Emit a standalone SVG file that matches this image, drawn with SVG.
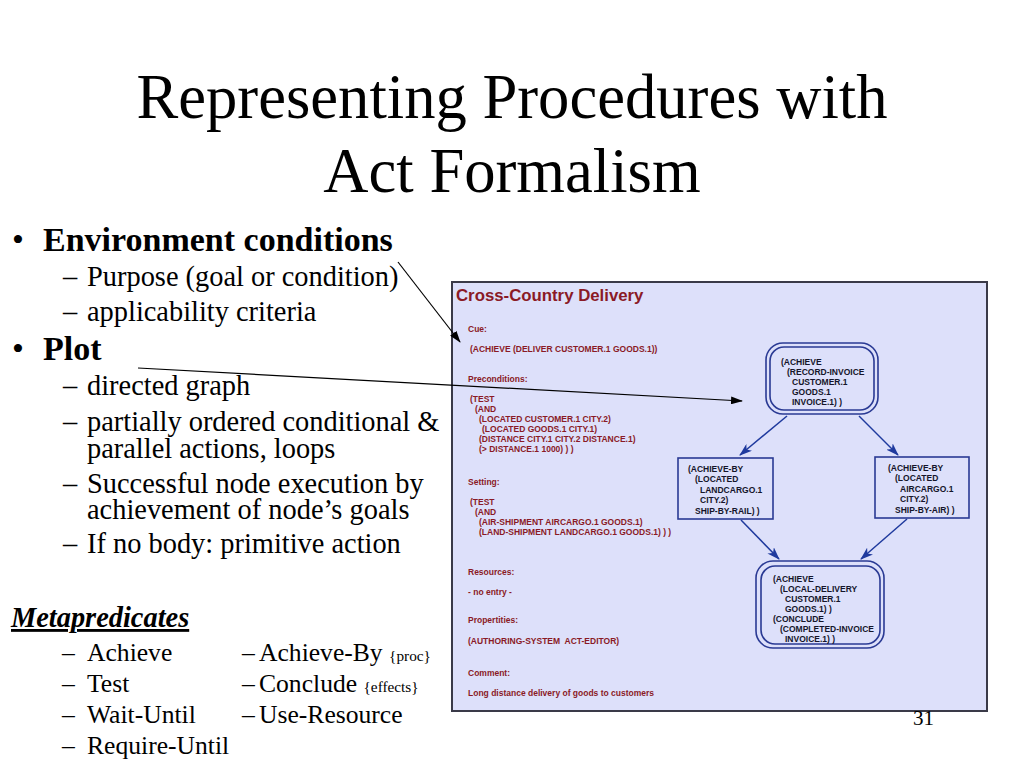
<svg xmlns="http://www.w3.org/2000/svg" width="1024" height="768" viewBox="0 0 1024 768">
<style>
.title{font-family:"Liberation Serif",serif;font-size:62.6px;fill:#000}
.b1{font-family:"Liberation Serif",serif;font-size:34px;font-weight:bold;fill:#000}
.bul{font-family:"Liberation Serif",serif;font-size:34px;fill:#000}
.s1{font-family:"Liberation Serif",serif;font-size:28.4px;fill:#000}
.s2{font-family:"Liberation Serif",serif;font-size:25.6px;fill:#000}
.sm{font-family:"Liberation Serif",serif;font-size:15.3px;fill:#000}
.meta{font-family:"Liberation Serif",serif;font-size:28.4px;font-weight:bold;font-style:italic;fill:#000;text-decoration:underline}
.pg{font-family:"Liberation Serif",serif;font-size:21px;fill:#000}
.pt{font-family:"Liberation Sans",Arial,sans-serif;font-size:8.5px;font-weight:bold;fill:#8a1a26;white-space:pre}
.ptitle{font-family:"Liberation Sans",Arial,sans-serif;font-size:16.8px;font-weight:bold;fill:#8a1a26}
.nt{font-family:"Liberation Sans",Arial,sans-serif;font-size:8.5px;font-weight:bold;fill:#15152a}
.nb{fill:none;stroke:#2a3a94;stroke-width:1.6}
.edge{fill:none;stroke:#1f3a9e;stroke-width:1.5}
.blk{fill:none;stroke:#000;stroke-width:1.2}
</style>
<defs>
<marker id="ab" viewBox="0 0 13 9" refX="12" refY="4.5" markerWidth="13" markerHeight="9" markerUnits="userSpaceOnUse" orient="auto">
<path d="M0,0 L13,4.5 L0,9 L3.5,4.5 z" fill="#1f3a9e"/>
</marker>
<marker id="ak" viewBox="0 0 12 8" refX="11" refY="4" markerWidth="12" markerHeight="8" markerUnits="userSpaceOnUse" orient="auto">
<path d="M0,0 L12,4 L0,8 z" fill="#000"/>
</marker>
</defs>
<rect width="1024" height="768" fill="#fff"/>

<g id="title">
<text class="title" x="512" y="118" text-anchor="middle">Representing Procedures with</text>
<text class="title" x="512" y="192" text-anchor="middle">Act Formalism</text>
</g>

<g id="bullets">
<text class="bul" x="12" y="251">•</text>
<text class="b1" x="43" y="251">Environment conditions</text>
<text class="s1" x="63" y="286">–</text><text class="s1" x="87" y="286">Purpose (goal or condition)</text>
<text class="s1" x="63" y="321">–</text><text class="s1" x="87" y="321">applicability criteria</text>
<text class="bul" x="12" y="360">•</text>
<text class="b1" x="43" y="360">Plot</text>
<text class="s1" x="63" y="395">–</text><text class="s1" x="87" y="395">directed graph</text>
<text class="s1" x="63" y="431">–</text><text class="s1" x="87" y="431">partially ordered conditional &amp;<tspan x="87" dy="27">parallel actions, loops</tspan></text>
<text class="s1" x="63" y="493">–</text><text class="s1" x="87" y="493">Successful node execution by<tspan x="87" dy="26">achievement of node’s goals</tspan></text>
<text class="s1" x="63" y="553">–</text><text class="s1" x="87" y="553">If no body: primitive action</text>
</g>

<g id="metapredicates">
<text class="meta" x="11" y="627">Metapredicates</text>
<text class="s2" x="62" y="661">–</text><text class="s2" x="87" y="661">Achieve</text>
<text class="s2" x="62" y="692">–</text><text class="s2" x="87" y="692">Test</text>
<text class="s2" x="62" y="723">–</text><text class="s2" x="87" y="723">Wait-Until</text>
<text class="s2" x="62" y="754">–</text><text class="s2" x="87" y="754">Require-Until</text>
<text class="s2" x="242" y="661">–</text><text class="s2" x="259" y="661">Achieve-By <tspan class="sm">{proc}</tspan></text>
<text class="s2" x="242" y="692">–</text><text class="s2" x="259" y="692">Conclude <tspan class="sm">{effects}</tspan></text>
<text class="s2" x="242" y="723">–</text><text class="s2" x="259" y="723">Use-Resource</text>
</g>

<g id="panel">
<rect x="452" y="282" width="535" height="429" fill="#dde0fa" stroke="#3a3a48" stroke-width="2"/>
<text class="ptitle" x="456" y="301">Cross-Country Delivery</text>
<text class="pt" x="468" y="332">Cue:</text>
<text class="pt" x="470" y="352">(ACHIEVE (DELIVER CUSTOMER.1 GOODS.1))</text>
<text class="pt" x="468" y="382">Preconditions:</text>
<text class="pt" x="470" y="402">(TEST</text>
<text class="pt" x="475" y="412">(AND</text>
<text class="pt" x="479" y="422">(LOCATED CUSTOMER.1 CITY.2)</text>
<text class="pt" x="482" y="432">(LOCATED GOODS.1 CITY.1)</text>
<text class="pt" x="479" y="442">(DISTANCE CITY.1 CITY.2 DISTANCE.1)</text>
<text class="pt" x="479" y="452">(&gt; DISTANCE.1 1000) ) )</text>
<text class="pt" x="468" y="485">Setting:</text>
<text class="pt" x="470" y="505">(TEST</text>
<text class="pt" x="475" y="515">(AND</text>
<text class="pt" x="479" y="525">(AIR-SHIPMENT AIRCARGO.1 GOODS.1)</text>
<text class="pt" x="479" y="535">(LAND-SHIPMENT LANDCARGO.1 GOODS.1) ) )</text>
<text class="pt" x="468" y="575">Resources:</text>
<text class="pt" x="468" y="595">- no entry -</text>
<text class="pt" x="468" y="623">Propertities:</text>
<text class="pt" x="468" y="644">(AUTHORING-SYSTEM  ACT-EDITOR)</text>
<text class="pt" x="468" y="676">Comment:</text>
<text class="pt" x="468" y="696">Long distance delivery of goods to customers</text>
</g>

<g id="node-record-invoice">
<rect class="nb" x="766" y="343" width="112" height="71" rx="17"/>
<rect class="nb" x="770" y="347" width="104" height="63" rx="14"/>
<text class="nt" x="781" y="365">(ACHIEVE</text>
<text class="nt" x="787" y="375">(RECORD-INVOICE</text>
<text class="nt" x="792" y="385">CUSTOMER.1</text>
<text class="nt" x="792" y="395">GOODS.1</text>
<text class="nt" x="792" y="405">INVOICE.1) )</text>
</g>

<g id="node-ship-by-rail">
<rect class="nb" x="678" y="458" width="95" height="61"/>
<text class="nt" x="688" y="472">(ACHIEVE-BY</text>
<text class="nt" x="695" y="482">(LOCATED</text>
<text class="nt" x="700" y="493">LANDCARGO.1</text>
<text class="nt" x="700" y="503">CITY.2)</text>
<text class="nt" x="695" y="514">SHIP-BY-RAIL) )</text>
</g>

<g id="node-ship-by-air">
<rect class="nb" x="875" y="457" width="94" height="61"/>
<text class="nt" x="888" y="471">(ACHIEVE-BY</text>
<text class="nt" x="895" y="481">(LOCATED</text>
<text class="nt" x="900" y="492">AIRCARGO.1</text>
<text class="nt" x="900" y="502">CITY.2)</text>
<text class="nt" x="895" y="513">SHIP-BY-AIR) )</text>
</g>

<g id="node-local-delivery">
<rect class="nb" x="756" y="561" width="128" height="87" rx="17"/>
<rect class="nb" x="761" y="566" width="119" height="78" rx="14"/>
<text class="nt" x="773" y="582">(ACHIEVE</text>
<text class="nt" x="780" y="592">(LOCAL-DELIVERY</text>
<text class="nt" x="785" y="602">CUSTOMER.1</text>
<text class="nt" x="785" y="612">GOODS.1) )</text>
<text class="nt" x="773" y="622">(CONCLUDE</text>
<text class="nt" x="780" y="632">(COMPLETED-INVOICE</text>
<text class="nt" x="785" y="642">INVOICE.1) )</text>
</g>

<g id="connectors">
<line class="edge" x1="787" y1="416" x2="740" y2="455" marker-end="url(#ab)"/>
<line class="edge" x1="859" y1="416" x2="898" y2="455" marker-end="url(#ab)"/>
<line class="edge" x1="741" y1="520" x2="779" y2="559" marker-end="url(#ab)"/>
<line class="edge" x1="907" y1="519" x2="861" y2="559" marker-end="url(#ab)"/>
<line class="blk" x1="398" y1="262" x2="460" y2="342" marker-end="url(#ak)"/>
<line class="blk" x1="138" y1="368" x2="742" y2="401" marker-end="url(#ak)"/>
</g>

<text class="pg" x="913" y="725">31</text>
</svg>
